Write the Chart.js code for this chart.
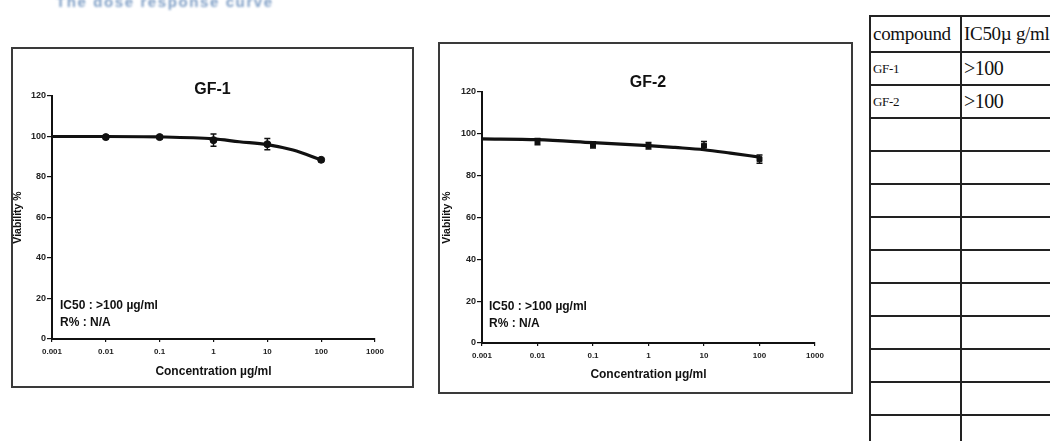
<!DOCTYPE html>
<html>
<head>
<meta charset="utf-8">
<script src="https://cdn.jsdelivr.net/npm/chart.js@4.4.0/dist/chart.umd.min.js"></script>
<style>
  html, body { margin: 0; padding: 0; background: #fff; }
  body { width: 1050px; height: 441px; overflow: hidden; position: relative; }
  .heading { position: absolute; left: 56px; top: -7px; font: bold 15px "Liberation Sans", Arial, sans-serif;
             color: #7f9fc6; filter: blur(0.9px); letter-spacing: 1.6px; white-space: nowrap; }
  .frame { position: absolute; border: 2px solid #3a3a3a; box-sizing: border-box; }
  .panel { position: absolute; }
  table.summary { position: absolute; left: 869px; top: 15px; width: 240px; border-collapse: collapse; table-layout: fixed;
                  font-family: "Liberation Serif", "Times New Roman", serif; color: #111; }
  table.summary td { border: 2px solid #222; padding: 0 0 0 2px; vertical-align: middle; white-space: nowrap;
                     overflow: hidden; height: 31px; }
  table.summary tr.head td { height: 34px; font-size: 19px; letter-spacing: -0.3px; }
  table.summary td.name { font-size: 13px; letter-spacing: -0.3px; }
  table.summary td.val { font-size: 20px; letter-spacing: -0.5px; }
</style>
</head>
<body>
<div class="heading">The dose response curve</div>

<div class="frame" style="left:11px; top:47px; width:403px; height:341px;"></div>
<div class="panel" style="left:12px; top:47px; width:401px; height:340px;"><canvas id="gf1Chart"></canvas></div>

<div class="frame" style="left:438px; top:42px; width:415px; height:352px;"></div>
<div class="panel" style="left:438px; top:42px; width:414px; height:351px;"><canvas id="gf2Chart"></canvas></div>

<table class="summary" id="summaryTable">
  <colgroup><col style="width:91px"><col style="width:149px"></colgroup>
</table>

<script>
// axis ticks
var xTicks = [0.001, 0.01, 0.1, 1, 10, 100, 1000];
var xTickLabels = ['0.001', '0.01', '0.1', '1', '10', '100', '1000'];

// measured points (concentration ug/ml -> viability %)
var conc = [0.01, 0.1, 1, 10, 100];
var gf1Viability = [99.7, 99.7, 98.2, 96.2, 88.5];
var gf1Error = [0.8, 0.8, 3, 2.8, 0.8];
var gf2Viability = [96.3, 94.7, 94.3, 94.3, 87.9];
var gf2Error = [1.5, 1.5, 1.5, 2, 2];

// fitted curves
var fitConc = [0.001, 0.01, 0.1, 1, 3, 10, 30, 100];
var gf1Fit = [100, 100, 99.8, 98.8, 97.4, 96.0, 93.3, 88.5];
var gf2Fit = [97.6, 97.2, 95.8, 94.4, 93.5, 92.4, 90.8, 88.9];

// table
var compounds = ['GF-1', 'GF-2'];
var ic50Values = ['>100', '>100'];
var blankRows = 10;

var FONT = '"Liberation Sans", Arial, sans-serif';
Chart.defaults.font.family = FONT;
Chart.defaults.color = '#222';

function toPoints(xs, ys) {
    return xs.map(function(x, i) { return { x: x, y: ys[i] }; });
}

// vertical error bars with caps
var errorBars = {
    id: 'errorBars',
    afterDatasetsDraw: function(chart) {
        var ctx = chart.ctx, x = chart.scales.x, y = chart.scales.y;
        chart.data.datasets.forEach(function(ds) {
            if (!ds.errors) return;
            ctx.save();
            ctx.strokeStyle = '#111';
            ctx.lineWidth = 1.5;
            ds.data.forEach(function(p, j) {
                var e = ds.errors[j];
                var px = x.getPixelForValue(p.x);
                var top = y.getPixelForValue(p.y + e), bot = y.getPixelForValue(p.y - e);
                ctx.beginPath();
                ctx.moveTo(px, top); ctx.lineTo(px, bot);
                ctx.moveTo(px - 3, top); ctx.lineTo(px + 3, top);
                ctx.moveTo(px - 3, bot); ctx.lineTo(px + 3, bot);
                ctx.stroke();
            });
            ctx.restore();
        });
    }
};

// panel title + IC50 note
var panelText = {
    id: 'panelText',
    afterDatasetsDraw: function(chart, args, opts) {
        var ctx = chart.ctx, area = chart.chartArea;
        ctx.save();
        ctx.fillStyle = '#111';
        ctx.textAlign = 'center';
        ctx.textBaseline = 'middle';
        ctx.font = 'bold 16px ' + FONT;
        ctx.fillText(opts.title, chart.width / 2 + opts.titleShift, area.top - opts.titleGap);
        ctx.textAlign = 'left';
        ctx.font = 'bold 12px ' + FONT;
        opts.notes.forEach(function(line, i) {
            ctx.fillText(line, area.left + opts.noteLeft, area.bottom - opts.noteBottom + i * 17);
        });
        ctx.restore();
    }
};

function makePanel(id, cfg) {
    var axisGrid = { drawOnChartArea: false, drawTicks: true, color: '#111', lineWidth: 1.2 };
    return new Chart(document.getElementById(id), {
        type: 'scatter',
        data: {
            datasets: [{
                data: toPoints(conc, cfg.values),
                errors: cfg.errors,
                pointStyle: cfg.pointStyle,
                pointRadius: 3.5,
                backgroundColor: '#111',
                borderColor: '#111'
            }, {
                data: toPoints(fitConc, cfg.fit),
                showLine: true,
                borderColor: '#111',
                borderWidth: 3.2,
                pointRadius: 0,
                cubicInterpolationMode: 'monotone'
            }]
        },
        options: {
            responsive: true,
            maintainAspectRatio: false,
            animation: false,
            layout: { padding: { top: cfg.padTop, right: cfg.padRight, left: 0, bottom: 0 } },
            plugins: {
                legend: { display: false },
                tooltip: { enabled: false },
                panelText: {
                    title: cfg.title, titleShift: cfg.titleShift, titleGap: cfg.titleGap,
                    notes: ['IC50 : >100 \u00b5g/ml', 'R% : N/A'],
                    noteLeft: cfg.noteLeft, noteBottom: cfg.noteBottom
                }
            },
            scales: {
                x: {
                    type: 'logarithmic',
                    min: xTicks[0],
                    max: xTicks[xTicks.length - 1],
                    afterBuildTicks: function(scale) {
                        scale.ticks = xTicks.map(function(v) { return { value: v }; });
                    },
                    afterFit: function(scale) { scale.height = cfg.xHeight; },
                    ticks: {
                        autoSkip: false, maxRotation: 0, padding: 5,
                        font: { size: 8, weight: 'bold' }, color: '#222',
                        callback: function(value, index) { return xTickLabels[index]; }
                    },
                    grid: Object.assign({ tickLength: 3 }, axisGrid),
                    border: { color: '#111', width: 2 },
                    title: {
                        display: true, text: 'Concentration \u00b5g/ml', color: '#111',
                        font: { size: 12, weight: 'bold' }, padding: { top: 0, bottom: cfg.xTitlePad }
                    }
                },
                y: {
                    min: 0, max: 120,
                    afterFit: function(scale) { scale.width = cfg.yWidth; },
                    ticks: { stepSize: 20, padding: 1, font: { size: 9, weight: 'bold' }, color: '#222' },
                    grid: Object.assign({ tickLength: 5 }, axisGrid),
                    border: { color: '#111', width: 2 },
                    title: {
                        display: true, text: 'Viability %', color: '#111',
                        font: { size: 10.5, weight: 'bold' }, padding: { top: cfg.yTitlePad, bottom: 0 }
                    }
                }
            }
        },
        plugins: [errorBars, panelText]
    });
}

makePanel('gf1Chart', {
    title: 'GF-1', values: gf1Viability, errors: gf1Error, fit: gf1Fit, pointStyle: 'circle',
    padTop: 49, padRight: 38, yWidth: 40, xHeight: 48, xTitlePad: 8, yTitlePad: 0,
    titleShift: 0, titleGap: 6, noteLeft: 8, noteBottom: 33
});

makePanel('gf2Chart', {
    title: 'GF-2', values: gf2Viability, errors: gf2Error, fit: gf2Fit, pointStyle: 'rect',
    padTop: 50, padRight: 37, yWidth: 44, xHeight: 50, xTitlePad: 11, yTitlePad: 3,
    titleShift: 3, titleGap: 9, noteLeft: 7, noteBottom: 36
});

// summary table
var table = document.getElementById('summaryTable');
var html = '<tr class="head"><td>compound</td><td>IC50\u00b5 g/ml</td></tr>';
compounds.forEach(function(name, i) {
    html += '<tr><td class="name">' + name + '</td><td class="val">' + ic50Values[i].replace('>', '&gt;') + '</td></tr>';
});
for (var r = 0; r < blankRows; r++) {
    html += '<tr><td></td><td></td></tr>';
}
table.insertAdjacentHTML('beforeend', html);
</script>
</body>
</html>
